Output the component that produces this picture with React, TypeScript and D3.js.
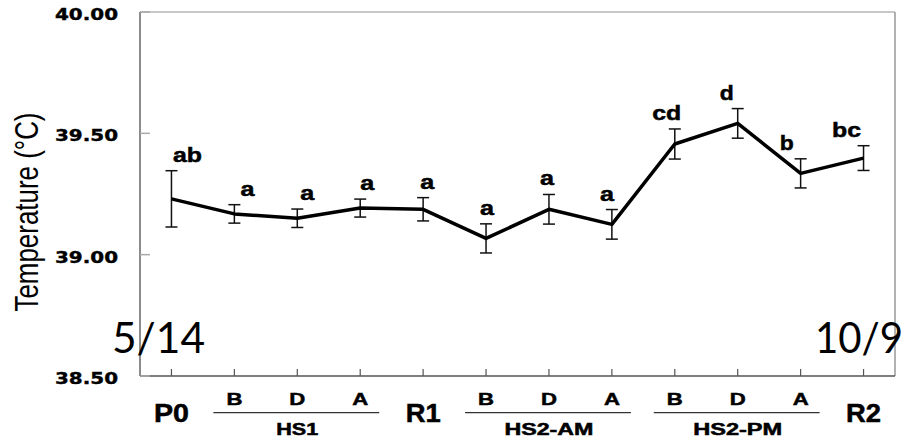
import React from "react";
import { scalePoint, scaleLinear, line } from "d3";

// point keys along the x axis
const keys = ["P0", "HS1-B", "HS1-D", "HS1-A", "R1", "AM-B", "AM-D", "AM-A", "PM-B", "PM-D", "PM-A", "R2"];
const tickLabels = ["P0", "B", "D", "A", "R1", "B", "D", "A", "B", "D", "A", "R2"];
const means = [39.23, 39.168, 39.15, 39.192, 39.187, 39.067, 39.187, 39.125, 39.456, 39.541, 39.335, 39.398];
const errors = [0.116, 0.038, 0.038, 0.037, 0.048, 0.06, 0.061, 0.061, 0.062, 0.061, 0.06, 0.051];
const letters = ["ab", "a", "a", "a", "a", "a", "a", "a", "cd", "d", "b", "bc"];
const groupNames = ["HS1", "HS2-AM", "HS2-PM"];
const groupFrom = ["HS1-B", "AM-B", "PM-B"];
const groupTo = ["HS1-A", "AM-A", "PM-A"];
const yTicks = [38.5, 39.0, 39.5, 40.0];
const dates = ["5/14", "10/9"];

const W = 906;
const H = 439;
const left = 140, right = 895, top = 12, bottom = 376;

const bold = "'Liberation Sans', Arial, sans-serif";
const wide = "'DejaVu Sans', Verdana, sans-serif";

// text stretched to a given width, like the original figure
function Txt(props: { x: number; y: number; len: number; size: number; family: string; children: string }) {
    const { x, y, len, size, family, children } = props;
    return (
        <text
            x={x - len / 2}
            y={y}
            textLength={len}
            lengthAdjust="spacingAndGlyphs"
            fontSize={size}
            fontFamily={family}
            fontWeight="bold"
            fill="#000"
            stroke="#000"
            strokeWidth={0.5}
        >
            {children}
        </text>
    );
}

export default function App() {
    const x = scalePoint<string>().domain(keys).range([left, right]).padding(0.5);
    const y = scaleLinear().domain([38.5, 40]).range([bottom, top]);

    const path = line<number>()
        .x((d, i) => x(keys[i]) as number)
        .y(d => y(d))(means);

    return (
        <svg width={W} height={H} style={{ position: "absolute", left: 0, top: 0, background: "#fff" }}>
            {/* frame */}
            <line x1={left} x2={right} y1={top} y2={top} stroke="#b5b5b5" strokeWidth={1.5} />
            <line x1={right} x2={right} y1={top} y2={bottom} stroke="#999" strokeWidth={1.5} />
            <line x1={left} x2={left} y1={top} y2={bottom} stroke="#666" strokeWidth={1.5} />
            <line x1={left} x2={right} y1={bottom} y2={bottom} stroke="#555" strokeWidth={1.5} />

            {/* y axis */}
            {yTicks.map(t => (
                <g key={t}>
                    <line x1={left} x2={left + 10} y1={y(t)} y2={y(t)} stroke="#aaa" strokeWidth={1.5} />
                    <text
                        x={55}
                        y={y(t) + 8}
                        textLength={63}
                        lengthAdjust="spacingAndGlyphs"
                        fontSize={16}
                        fontFamily={wide}
                        fontWeight="bold"
                        stroke="#000"
                        strokeWidth={0.4}
                    >
                        {t.toFixed(2)}
                    </text>
                </g>
            ))}
            <text
                transform={`translate(38, 212) scale(1.3, 1) rotate(-90)`}
                textAnchor="middle"
                fontSize={25}
                textLength={199}
                lengthAdjust="spacingAndGlyphs"
                fontFamily={bold}
            >
                Temperature (°C)
            </text>

            {/* x axis */}
            {keys.map((k, i) => {
                const big = tickLabels[i].length > 1;
                return (
                    <g key={k}>
                        <line x1={x(k)} x2={x(k)} y1={bottom - 7} y2={bottom} stroke="#555" strokeWidth={1.2} />
                        {big ? (
                            <Txt x={x(k) as number} y={421.5} len={35} size={25} family={bold}>{tickLabels[i]}</Txt>
                        ) : (
                            <Txt x={x(k) as number} y={405} len={16} size={17} family={bold}>{tickLabels[i]}</Txt>
                        )}
                    </g>
                );
            })}
            {groupNames.map((g, i) => {
                const a = x(groupFrom[i]) as number;
                const b = x(groupTo[i]) as number;
                const mid = (a + b) / 2;
                return (
                    <g key={g}>
                        <line x1={a - 21} x2={b + 19} y1={412.7} y2={412.7} stroke="#333" strokeWidth={1.3} />
                        <Txt x={mid} y={434.5} len={g.length > 3 ? 89 : 42} size={16} family={bold}>{g}</Txt>
                    </g>
                );
            })}

            {/* error bars */}
            {means.map((m, i) => {
                const cx = x(keys[i]) as number;
                const y1 = y(m + errors[i]);
                const y2 = y(m - errors[i]);
                return (
                    <g key={i} stroke="#111" strokeWidth={1.5}>
                        <line x1={cx} x2={cx} y1={y1} y2={y2} />
                        <line x1={cx - 6} x2={cx + 6} y1={y1} y2={y1} />
                        <line x1={cx - 6} x2={cx + 6} y1={y2} y2={y2} />
                    </g>
                );
            })}

            {/* mean line */}
            <path d={path || ""} fill="none" stroke="#000" strokeWidth={3.5} strokeLinejoin="round" />

            {/* significance letters */}
            {letters.map((l, i) => {
                const cx = (x(keys[i]) as number) + 16 - 3 * i;
                const ty = y(means[i] + errors[i]) - 9;
                return (
                    <Txt key={i} x={cx} y={ty} len={l.length > 1 ? 29 : 14} size={21} family={bold}>{l}</Txt>
                );
            })}

            {/* dates */}
            <text x={112} y={353} textLength={93} lengthAdjust="spacingAndGlyphs" fontSize={42} fontFamily="Lato, 'Open Sans', sans-serif">
                {dates[0]}
            </text>
            <text x={815} y={353} textLength={88} lengthAdjust="spacingAndGlyphs" fontSize={42} fontFamily="Lato, 'Open Sans', sans-serif">
                {dates[1]}
            </text>
        </svg>
    );
}
